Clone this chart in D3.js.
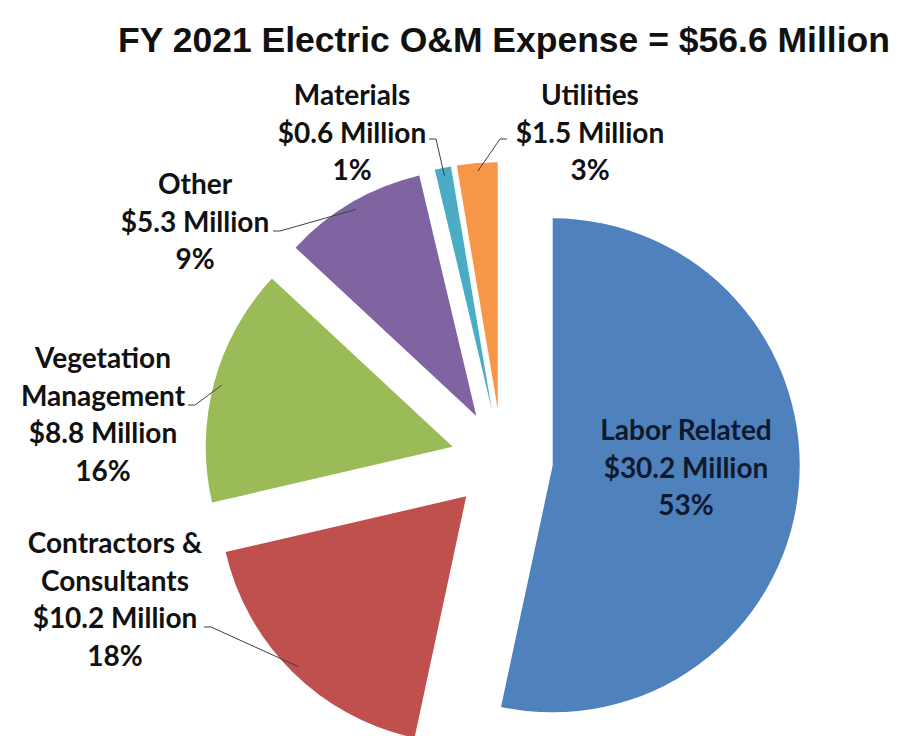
<!DOCTYPE html>
<html lang="en">
	<head>
		<meta charset="utf-8">
		<title>FY 2021 Electric O&amp;M Expense</title>
		<script type="text/javascript" src="https://cdn.jsdelivr.net/npm/d3@7/dist/d3.min.js"></script>
		<style type="text/css">
			html, body {
				margin: 0;
				background-color: white;
			}
		</style>
	</head>
	<body>
		<script type="text/javascript">

			//Data
			var categories = ["Labor Related", "Contractors & Consultants", "Vegetation Management", "Other", "Materials", "Utilities"];
			var values = [30.2, 10.2, 8.8, 5.3, 0.6, 1.5];
			var percents = ["53%", "18%", "16%", "9%", "1%", "3%"];
			//Label lines as printed in the chart
			var labelLines = [
				["Labor Related", "$30.2 Million", "53%"],
				["Contractors &", "Consultants", "$10.2 Million", "18%"],
				["Vegetation", "Management", "$8.8 Million", "16%"],
				["Other", "$5.3 Million", "9%"],
				["Materials", "$0.6 Million", "1%"],
				["Utilities", "$1.5 Million", "3%"]
			];
			var titleText = "FY 2021 Electric O&M Expense = $56.6 Million";

			//Layout
			var w = 906;
			var h = 736;
			var cx = 502, cy = 460;
			var radius = 247;
			var explode = 51;
			var lineH = 37.5;
			var colors = ["#4F81BD", "#C0504D", "#9BBB59", "#8064A2", "#4BACC6", "#F79646"];
			//label centre x, first baseline y, leader start (null = no leader)
			var labelPos = [
				{x: 686, y: 440, lead: null},
				{x: 115, y: 553, lead: [204, 627, 1]},
				{x: 103, y: 368, lead: [188, 405, 1]},
				{x: 195, y: 194, lead: [273, 231, 1]},
				{x: 352, y: 105, lead: [429, 139, 1]},
				{x: 590, y: 105, lead: [507, 139, -1]}
			];

			var svg = d3.select("body")
						.append("svg")
						.attr("width", w)
						.attr("height", h);

			var pie = d3.pie().sort(null).value(function(d) { return d; });
			var arcs = pie(values);

			var arc = d3.arc()
						.innerRadius(0)
						.outerRadius(radius);

			//Exploded slice origin, pushed out along the slice's middle angle
			function offset(d) {
				var mid = (d.startAngle + d.endAngle) / 2;
				return [cx + Math.sin(mid) * explode, cy - Math.cos(mid) * explode];
			}

			//Slices
			svg.selectAll("path.slice")
			   .data(arcs)
			   .enter()
			   .append("path")
			   .attr("class", "slice")
			   .attr("d", arc)
			   .attr("transform", function(d) {
			   		var o = offset(d);
			   		return "translate(" + o[0] + "," + o[1] + ")";
			   })
			   .style("fill", function(d, i) { return colors[i]; });

			//Leader lines
			svg.selectAll("path.leader")
			   .data(arcs.filter(function(d, i) { return labelPos[i].lead; }))
			   .enter()
			   .append("path")
			   .attr("class", "leader")
			   .attr("d", function(d) {
			   		var p = labelPos[d.index].lead;
			   		var o = offset(d);
			   		var mid = (d.startAngle + d.endAngle) / 2;
			   		var ex = o[0] + Math.sin(mid) * (radius - 8);
			   		var ey = o[1] - Math.cos(mid) * (radius - 8);
			   		return "M" + p[0] + "," + p[1] + "L" + (p[0] + 7 * p[2]) + "," + p[1] + "L" + ex + "," + ey;
			   })
			   .style("fill", "none")
			   .style("stroke", "#404040")
			   .style("stroke-width", 1);

			//Labels
			var labels = svg.selectAll("text.label")
			   .data(labelLines)
			   .enter()
			   .append("text")
			   .attr("class", "label")
			   .attr("text-anchor", "middle")
			   .attr("font-family", "Lato, 'Open Sans', sans-serif")
			   .attr("font-weight", "bold")
			   .attr("font-size", "28px")
			   .attr("fill", function(d, i) { return i === 0 ? "#0d1a2e" : "#111"; });

			labels.selectAll("tspan")
			   .data(function(d, i) { return d.map(function(t) { return {t: t, i: i}; }); })
			   .enter()
			   .append("tspan")
			   .attr("x", function(d) { return labelPos[d.i].x; })
			   .attr("y", function(d, j) { return labelPos[d.i].y + j * lineH; })
			   .text(function(d) { return d.t; });

			//Title
			svg.append("text")
				.attr("x", 504)
				.attr("y", 52)
				.attr("text-anchor", "middle")
				.attr("font-family", "'Liberation Sans', Arial, sans-serif")
				.attr("font-weight", "bold")
				.attr("font-size", "35.5px")
				.attr("fill", "#111")
				.text(titleText);

		</script>
	</body>
</html>
